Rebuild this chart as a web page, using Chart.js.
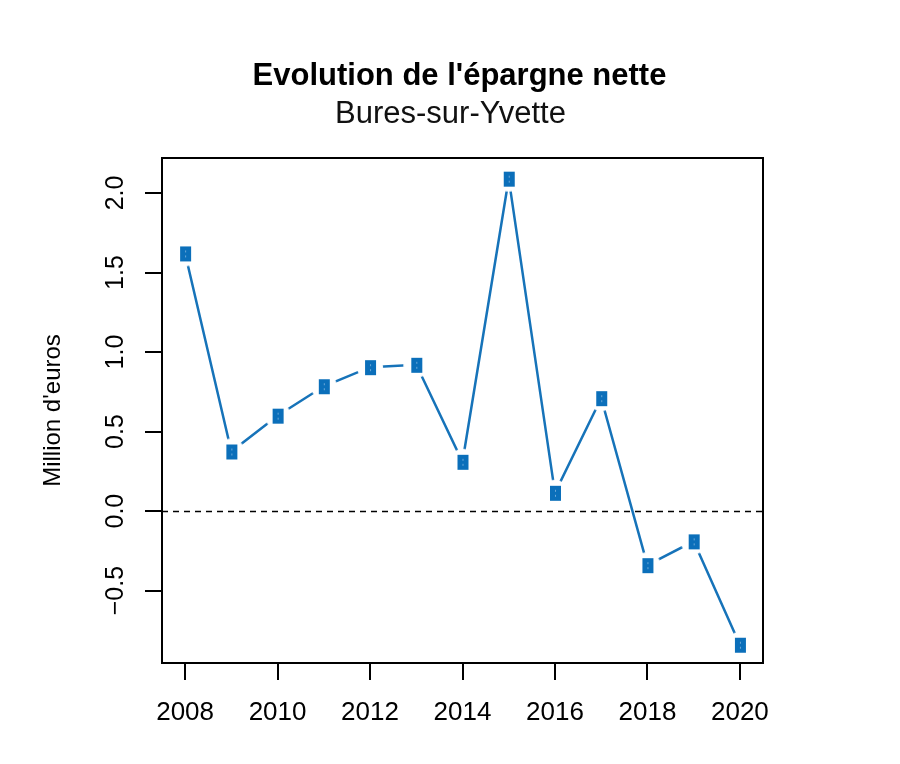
<!DOCTYPE html>
<html>
<head>
<meta charset="utf-8">
<script src="https://cdn.jsdelivr.net/npm/chart.js@4/dist/chart.umd.min.js"></script>
<style>
html,body{margin:0;padding:0;background:#fff;}
#wrap{width:900px;height:764px;}
</style>
</head>
<body>
<div id="wrap"><canvas id="c" width="900" height="764"></canvas></div>
<script>
const years = [2008, 2009, 2010, 2011, 2012, 2013, 2014, 2015, 2016, 2017, 2018, 2019, 2020];
const epargne = [1.62, 0.375, 0.60, 0.785, 0.905, 0.92, 0.31, 2.09, 0.115, 0.71, -0.34, -0.19, -0.84];
const xTicks = [2008, 2010, 2012, 2014, 2016, 2018, 2020];
const yTicks = [-0.5, 0.0, 0.5, 1.0, 1.5, 2.0];
const titleText = "Evolution de l'épargne nette";
const subtitleText = "Bures-sur-Yvette";
const yTitle = "Million d'euros";

const FONT = "'Liberation Sans', Arial, Helvetica, sans-serif";
const LINE = '#1673b9';
const MARK = '#0b6fba';

function makeMarker() {
  const c = document.createElement('canvas');
  c.width = 30; c.height = 30;
  const g = c.getContext('2d');
  g.fillStyle = '#ffffff';
  g.beginPath(); g.arc(15, 15, 13, 0, Math.PI * 2); g.fill();
  g.fillStyle = MARK;
  g.fillRect(10, 8, 11, 15);
  g.fillStyle = '#6aa8d8';
  g.fillRect(15, 12, 1, 2);
  g.fillRect(15, 17, 1, 2);
  return c;
}
const marker = makeMarker();

const decor = {
  id: 'decor',
  beforeDatasetsDraw(chart) {
    const ctx = chart.ctx, a = chart.chartArea, y = chart.scales.y;
    const y0 = Math.round(y.getPixelForValue(0)) + 0.5;
    ctx.save();
    ctx.strokeStyle = '#000';
    ctx.lineWidth = 1.5;
    ctx.setLineDash([6, 5]);
    ctx.beginPath(); ctx.moveTo(a.left, y0); ctx.lineTo(a.right, y0); ctx.stroke();
    ctx.restore();
  },
  afterDraw(chart) {
    const ctx = chart.ctx, a = chart.chartArea, y = chart.scales.y;
    ctx.save();
    ctx.strokeStyle = '#000';
    ctx.lineWidth = 2;
    ctx.strokeRect(a.left, a.top, a.right - a.left, a.bottom - a.top);
    ctx.fillStyle = '#000';
    ctx.font = '25px ' + FONT;
    ctx.textAlign = 'center';
    ctx.textBaseline = 'middle';
    y.ticks.forEach(t => {
      const py = y.getPixelForValue(t.value);
      const lbl = (t.value < 0 ? '\u2212' : '') + Math.abs(t.value).toFixed(1);
      ctx.save();
      ctx.translate(116, py);
      ctx.rotate(-Math.PI / 2);
      ctx.fillText(lbl, 0, 0);
      ctx.restore();
    });
    ctx.textBaseline = 'alphabetic';
    ctx.font = 'bold 31px ' + FONT;
    ctx.fillText(titleText, 459.5, 85);
    ctx.fillStyle = '#111';
    ctx.font = '31px ' + FONT;
    ctx.fillText(subtitleText, 450.5, 123);
    ctx.restore();
  }
};

new Chart(document.getElementById('c'), {
  type: 'line',
  data: {
    datasets: [{
      data: years.map((yr, i) => ({ x: yr, y: epargne[i] })),
      borderColor: LINE,
      borderWidth: 2.5,
      tension: 0,
      fill: false,
      pointStyle: marker,
      pointRadius: 15,
      pointHoverRadius: 15
    }]
  },
  plugins: [decor],
  options: {
    responsive: false,
    animation: false,
    events: [],
    layout: { padding: { top: 158, right: 137, bottom: 0, left: 0 } },
    plugins: {
      legend: { display: false },
      tooltip: { enabled: false },
      title: { display: false }
    },
    scales: {
      x: {
        type: 'linear',
        position: 'bottom',
        min: 2007.5,
        max: 2020.5,
        afterBuildTicks: s => { s.ticks = xTicks.map(v => ({ value: v })); },
        afterFit: s => { s.height = 101; },
        grid: { drawOnChartArea: false, drawTicks: true, tickLength: 17, color: '#000', lineWidth: 2 },
        border: { display: true, color: '#000', width: 2 },
        ticks: {
          color: '#000',
          font: { size: 26, family: FONT },
          padding: 17,
          maxRotation: 0,
          autoSkip: false,
          callback: v => String(v)
        }
      },
      y: {
        type: 'linear',
        min: -0.955,
        max: 2.22,
        afterBuildTicks: s => { s.ticks = yTicks.map(v => ({ value: v })); },
        afterFit: s => { s.width = 162; },
        grid: { drawOnChartArea: false, drawTicks: true, tickLength: 17, color: '#000', lineWidth: 2 },
        border: { display: true, color: '#000', width: 2 },
        ticks: { display: false },
        title: {
          display: true,
          text: yTitle,
          color: '#000',
          font: { size: 24, family: FONT },
          padding: { top: 39, bottom: 0 }
        }
      }
    }
  }
});
</script>
</body>
</html>
